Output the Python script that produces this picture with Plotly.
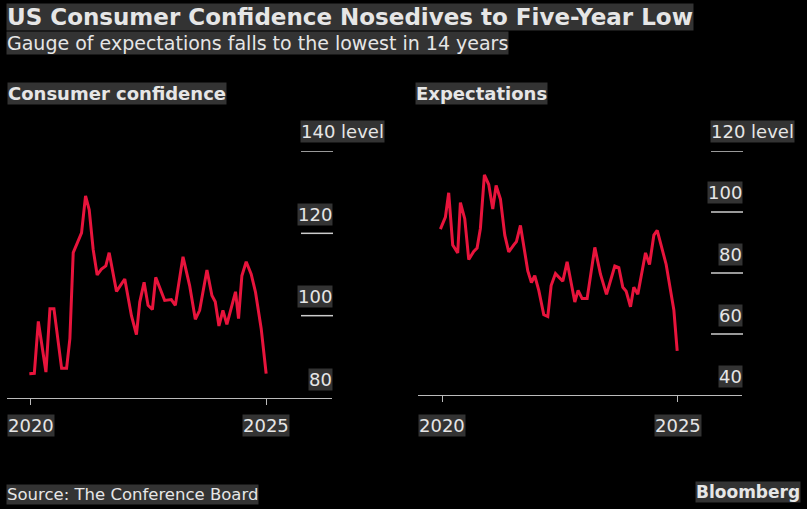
import plotly.graph_objects as go

conf_x = [88,103,115,138,150,162,185,200,210,220,245,257,268,280,292,305,318,328,350,375,395,410,420,433,445,458,468,495,515,527,550,570,587,600,622,637,647,658,670,682,708,717,727,740,755,768,785,800]
conf_vals = [85.9,86.0,98.6,86.3,101.7,101.7,87.2,87.2,94.4,115.3,120.1,129.1,125.7,116.1,109.9,111.3,112.1,115.3,105.9,108.9,100.0,95.4,103.3,108.1,102.5,101.5,109.3,103.7,103.9,102.5,114.3,107.3,99.1,101.3,111.1,104.9,103.4,97.5,101.3,97.9,105.8,99.3,109.7,113.1,110.1,105.7,96.9,85.9]
conf_dates = [round(2020 + (x - 93) / 141.4, 3) for x in conf_x]

exp_x = [105,120,130,142,157,165,178,190,205,215,225,237,250,262,272,285,298,310,325,333,345,367,378,388,400,415,427,437,450,472,485,508,518,530,545,568,585,603,628,640,652,662,675,685,697,720,732,745,755,773,782,805,815]
exp_vals = [94.4,98.3,106.3,89.2,86.6,103.1,97.8,84.4,87.1,88.2,94.6,112.2,109.0,101.0,108.7,104.2,92.4,86.9,89.2,90.3,95.6,80.7,76.9,79.1,74.3,66.3,65.7,75.9,79.8,77.3,83.7,70.5,74.3,71.6,71.6,88.4,79.6,73.0,82.3,81.8,75.3,74.0,68.9,75.3,73.0,86.6,82.8,92.4,94.0,86.0,82.8,67.9,54.5]
exp_dates = [round(2020 + (x - 110) / 141.4, 3) for x in exp_x]

conf_ticks = [80, 100, 120, 140]
exp_ticks = [40, 60, 80, 100, 120]
year_ticks = [2020, 2025]

RED = "#e8143c"
BOX = "#333333"
TXT = "#e6e6e6"
FONT = "DejaVu Sans"

fig = go.Figure()
fig.add_trace(go.Scatter(x=conf_dates, y=conf_vals, mode="lines", line=dict(color=RED, width=3), xaxis="x", yaxis="y", hoverinfo="skip"))
fig.add_trace(go.Scatter(x=exp_dates, y=exp_vals, mode="lines", line=dict(color=RED, width=3), xaxis="x2", yaxis="y2", hoverinfo="skip"))

W, H = 807, 509
def px(v): return v / W
def py(v): return 1 - v / H

ax_common = dict(showgrid=False, zeroline=False, showticklabels=False, fixedrange=True)
fig.update_layout(
    width=W, height=H, margin=dict(l=0, r=0, t=0, b=0),
    paper_bgcolor="black", plot_bgcolor="black", showlegend=False,
    xaxis=dict(domain=[px(7), px(332)], range=[2019.49, 2026.40], showline=True, linecolor="#bbbbbb", linewidth=1,
               ticks="outside", tickvals=year_ticks, ticklen=6, tickcolor="#bbbbbb", **ax_common),
    yaxis=dict(domain=[py(398), py(151)], range=[80, 140], anchor="x", **ax_common),
    xaxis2=dict(domain=[px(418), px(742)], range=[2019.49, 2026.36], showline=True, linecolor="#bbbbbb", linewidth=1,
                ticks="outside", tickvals=year_ticks, ticklen=6, tickcolor="#bbbbbb", anchor="y2", **ax_common),
    yaxis2=dict(domain=[py(395), py(151)], range=[40, 120], anchor="x2", **ax_common),
)

shapes, anns = [], []
def label(x, y, text, size, bold=False, xanchor="left", yanchor="middle", xref="paper", yref="paper", yshift=0):
    anns.append(dict(x=x, y=y, xref=xref, yref=yref, text=f"<b>{text}</b>" if bold else text, showarrow=False,
                     font=dict(family=FONT, size=size, color=TXT), bgcolor=BOX, borderpad=0,
                     xanchor=xanchor, yanchor=yanchor, yshift=yshift))

label(px(6), py(17), "US Consumer Confidence Nosedives to Five-Year Low", 23, bold=True)
label(px(6), py(43), "Gauge of expectations falls to the lowest in 14 years", 19)
label(px(7), py(93), "Consumer confidence", 18, bold=True)
label(px(415), py(93), "Expectations", 18, bold=True)
label(px(6), py(494), "Source: The Conference Board", 16.5)
label(px(801), py(492), "Bloomberg", 17, bold=True, xanchor="right")

for yref, ticks, x0, x1 in [("y", conf_ticks, 301, 333), ("y2", exp_ticks, 711, 743)]:
    for t in ticks:
        if t != ticks[0]:
            shapes.append(dict(type="line", xref="paper", yref=yref, x0=px(x0), x1=px(x1), y0=t, y1=t,
                               line=dict(color="#cccccc", width=1.5)))
        if t == ticks[-1]:
            label(px(x0 - 1), t, f"{t} level", 18, xanchor="left", yref=yref, yshift=19)
        else:
            label(px(x1), t, f"{t}", 18, xanchor="right", yref=yref, yshift=19)

for xref in ["x", "x2"]:
    for yr in year_ticks:
        label(yr, py(425), str(yr), 18, xanchor="center", xref=xref)

fig.update_layout(shapes=shapes, annotations=anns)
fig.write_html("out.html", config={"displayModeBar": False},
               post_script="document.body.style.margin='0';document.body.style.background='black';document.body.style.overflow='hidden';")
